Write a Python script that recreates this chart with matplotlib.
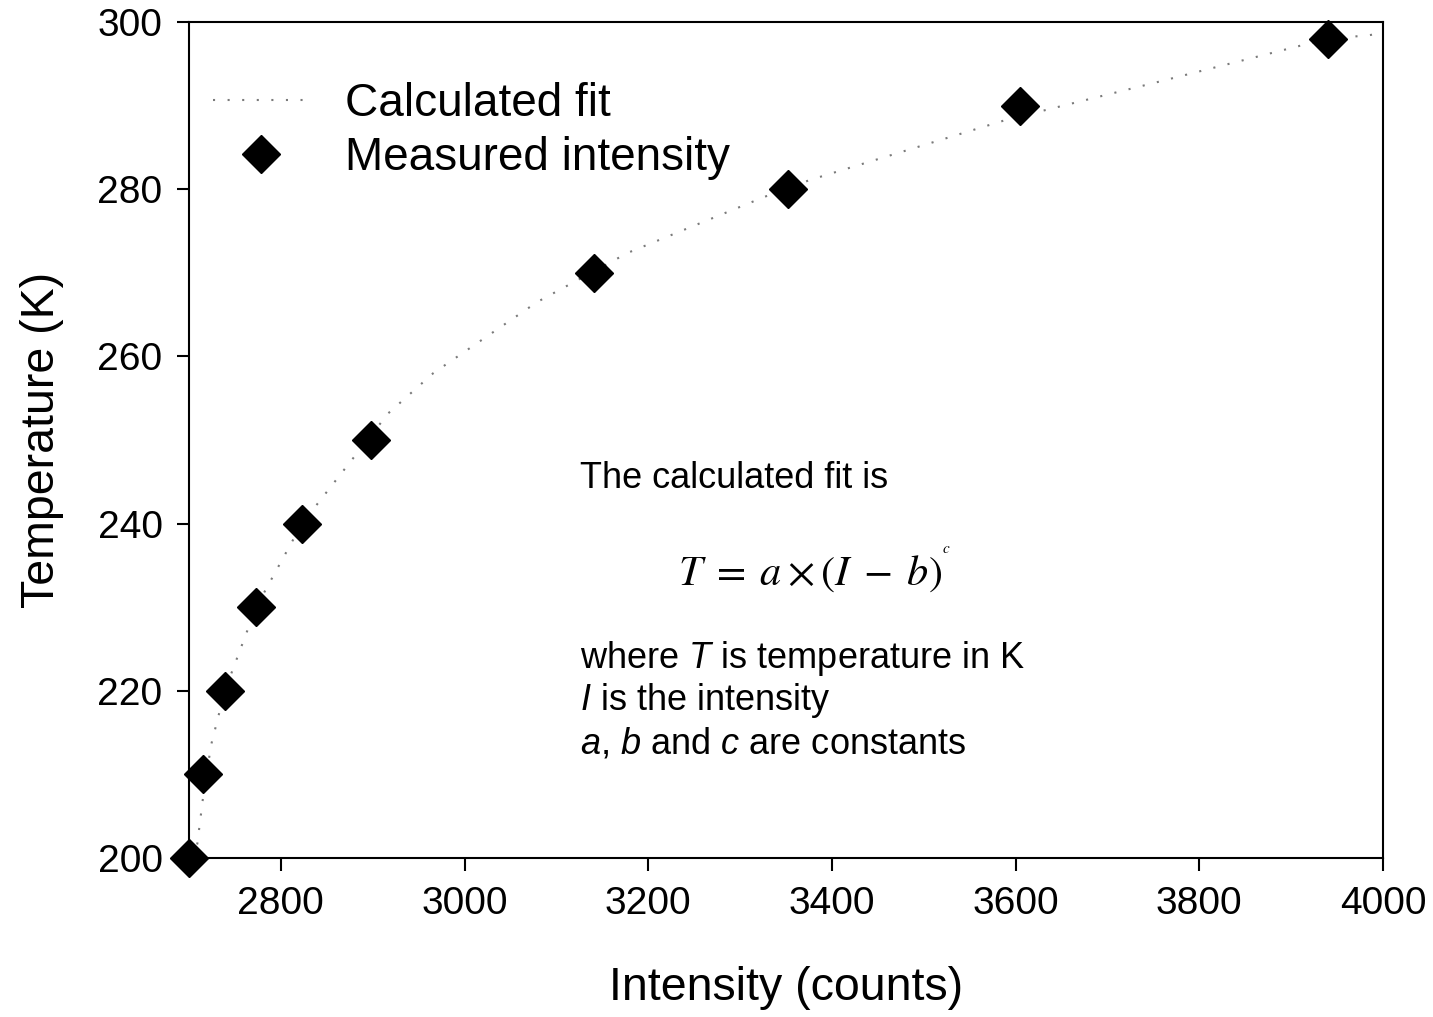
import matplotlib
matplotlib.use("Agg")
import matplotlib.pyplot as plt

# measured points
intensity = [2700, 2715, 2739, 2773, 2823, 2898, 3141, 3352, 3605, 3940]
temperature = [200, 210, 220, 230, 240, 250, 270, 280, 290, 298]

# calculated fit T = a*(I-b)^c, sampled along the curve
fit_intensity = [2703, 2709, 2715, 2724, 2739, 2773, 2823, 2917, 2966, 3079,
                 3178, 3327, 3376, 3590, 3623, 3754, 3940, 3984, 4000]
fit_temperature = [200.0, 201.7, 207.0, 213.5, 220.0, 230.0, 240.0, 253.2,
                   258.0, 266.5, 272.4, 279.1, 281.1, 288.3, 289.2, 292.8,
                   298.0, 298.4, 298.7]

x_ticks = [2800, 3000, 3200, 3400, 3600, 3800, 4000]
y_ticks = [200, 220, 240, 260, 280, 300]

plt.rcParams["font.family"] = "Liberation Sans"
plt.rcParams["mathtext.fontset"] = "custom"
plt.rcParams["mathtext.rm"] = "Liberation Sans"
plt.rcParams["mathtext.it"] = "Liberation Sans:italic"

fig = plt.figure(figsize=(14.33, 10.17), dpi=100)
ax = fig.add_axes([0.1319, 0.1563, 0.8332, 0.8221])

ax.plot(fit_intensity, fit_temperature, color="#7a7a7a", lw=1.5,
        dashes=(1, 6), label="Calculated fit", zorder=2)
ax.plot(intensity, temperature, "D", color="black", ms=19, ls="none",
        label="Measured intensity", zorder=3, clip_on=False)

ax.set_xlim(2700, 4000)
ax.set_ylim(200, 300)
ax.set_xticks(x_ticks)
ax.set_yticks(y_ticks)
ax.tick_params(direction="out", length=9, width=1.5, labelsize=28,
               top=False, right=False)
ax.tick_params(axis="x", pad=11)
ax.tick_params(axis="y", pad=10)
for s in ax.spines.values():
    s.set_linewidth(1.5)

ax.set_xlabel("Intensity (counts)", fontsize=33.5, labelpad=32)
ax.set_ylabel("Temperature (K)", fontsize=33.5, labelpad=24)

ax.legend(loc="upper left", bbox_to_anchor=(0.02, 0.928), frameon=False,
          fontsize=33, numpoints=1, handlelength=2.1, handletextpad=0.78,
          labelspacing=0.22, borderpad=0, borderaxespad=0)

# fit description
ax.text(0.3275, 0.4426, "The calculated fit is", transform=ax.transAxes,
        fontsize=26, va="baseline")
fig.text(0.473, 0.4248, r"$T\;=\;a\times(I\;-\;b)$", fontsize=30.5,
         math_fontfamily="stix", ha="left", va="baseline")
fig.text(0.6575, 0.456, r"$c$", fontsize=11, math_fontfamily="stix",
         ha="left", va="baseline")
ax.text(0.3275, 0.2273, r"where $T$ is temperature in K",
        transform=ax.transAxes, fontsize=26, va="baseline")
ax.text(0.3275, 0.177, r"$I$ is the intensity", transform=ax.transAxes,
        fontsize=26, va="baseline")
ax.text(0.3275, 0.1256, r"$a$, $b$ and $c$ are constants",
        transform=ax.transAxes, fontsize=26, va="baseline")

fig.savefig("out.png", dpi=100)
